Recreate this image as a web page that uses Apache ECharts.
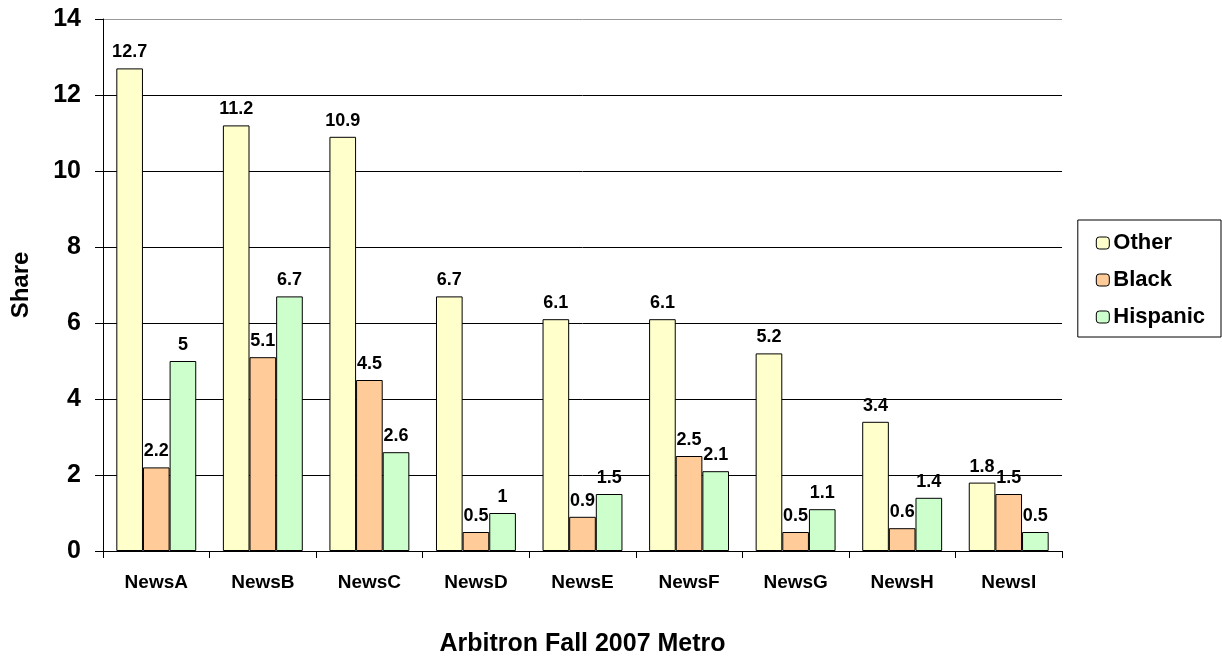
<!DOCTYPE html>
<html><head><meta charset="utf-8">
<script src="https://cdn.jsdelivr.net/npm/echarts@6/dist/echarts.min.js"></script>
<style>html,body{margin:0;padding:0;background:#fff}#c{width:1222px;height:658px}</style>
</head><body><div id="c"></div>
<script>
const categories = ['NewsA','NewsB','NewsC','NewsD','NewsE','NewsF','NewsG','NewsH','NewsI'];
const other = [12.7, 11.2, 10.9, 6.7, 6.1, 6.1, 5.2, 3.4, 1.8];
const black = [2.2, 5.1, 4.5, 0.5, 0.9, 2.5, 0.5, 0.6, 1.5];
const hispanic = [5, 6.7, 2.6, 1, 1.5, 2.1, 1.1, 1.4, 0.5];
const seriesNames = ['Other','Black','Hispanic'];
const colors = ['#FFFFCC','#FFCC99','#CCFFCC'];
const F = 'Liberation Sans, Arial, sans-serif';
const chart = echarts.init(document.getElementById('c'));
const mk = (name, data, color) => ({
  name, type: 'bar', data, barGap: '0%', barCategoryGap: '25%',
  itemStyle: { color, borderColor: '#000', borderWidth: 1 },
  label: { show: true, position: 'top', distance: 7, color: '#000', fontFamily: F, fontWeight: 'bold', fontSize: 18 }
});
chart.setOption({
  animation: false,
  grid: { left: 103, top: 19, right: 160, bottom: 107, outerBoundsMode: 'none', containLabel: false },
  legend: {
    orient: 'vertical', right: 1, top: 220,
    data: seriesNames, itemWidth: 13, itemHeight: 12, itemGap: 15,
    padding: [12, 16, 9, 18],
    borderColor: '#000', borderWidth: 1,
    textStyle: { fontFamily: F, fontWeight: 'bold', fontSize: 22, color: '#000', padding: [0, 0, 0, -1] },
    itemStyle: { borderColor: '#000', borderWidth: 1 }
  },
  xAxis: {
    type: 'category', data: categories,
    name: 'Arbitron Fall 2007 Metro', nameLocation: 'middle', nameGap: 81,
    nameTextStyle: { fontFamily: F, fontWeight: 'bold', fontSize: 25, color: '#000' },
    axisLine: { lineStyle: { color: '#000' } },
    axisTick: { show: true, length: 7, lineStyle: { color: '#000' } },
    axisLabel: { fontFamily: F, fontWeight: 'bold', fontSize: 19, color: '#000', margin: 22 }
  },
  yAxis: {
    type: 'value', min: 0, max: 14, interval: 2,
    name: 'Share', nameLocation: 'middle', nameGap: 70, nameRotate: 90,
    nameTextStyle: { fontFamily: F, fontWeight: 'bold', fontSize: 24, color: '#000' },
    axisLine: { show: true, lineStyle: { color: '#000' } },
    axisTick: { show: true, length: 8, lineStyle: { color: '#000' } },
    axisLabel: { fontFamily: F, fontWeight: 'bold', fontSize: 25, color: '#000', margin: 22 },
    splitLine: { lineStyle: { color: ['#000','#000','#000','#000','#000','#000','#000','#999'], width: 1 } }
  },
  series: [mk('Other', other, colors[0]), mk('Black', black, colors[1]), mk('Hispanic', hispanic, colors[2])]
});
</script></body></html>
